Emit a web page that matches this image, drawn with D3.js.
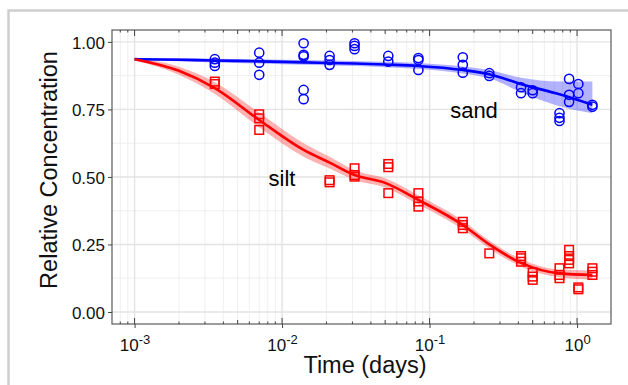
<!DOCTYPE html>
<html>
<head>
<meta charset="utf-8">
<script src="https://cdn.jsdelivr.net/npm/d3@7"></script>
<style>
  body { margin: 0; background: #fff; }
  svg { font-family: "Liberation Sans", Arial, sans-serif; }
</style>
</head>
<body>
<div id="chart"></div>
<script>
var w = 628;
var h = 385;

// measured points (time in days, relative concentration)
var sandT = [0.0035, 0.0035, 0.0035, 0.007, 0.007, 0.007, 0.014, 0.014, 0.014, 0.014, 0.014,
             0.021, 0.021, 0.021, 0.031, 0.031, 0.031, 0.0525, 0.0525, 0.084, 0.084, 0.084,
             0.168, 0.168, 0.168, 0.254, 0.254, 0.417, 0.417, 0.50, 0.50, 0.76, 0.76, 0.76,
             0.883, 0.883, 0.883, 1.02, 1.02, 1.27, 1.27];
var sandC = [0.936, 0.923, 0.911, 0.960, 0.923, 0.878, 0.995, 0.952, 0.946, 0.822, 0.788,
             0.948, 0.933, 0.915, 0.995, 0.985, 0.973, 0.948, 0.927, 0.940, 0.933, 0.896,
             0.943, 0.915, 0.886, 0.884, 0.874, 0.832, 0.810, 0.821, 0.810, 0.736, 0.719, 0.707,
             0.863, 0.804, 0.778, 0.844, 0.810, 0.767, 0.760];
var siltT = [0.0035, 0.0035, 0.007, 0.007, 0.007, 0.021, 0.021, 0.031, 0.031, 0.031,
             0.0525, 0.0525, 0.0525, 0.084, 0.084, 0.084, 0.168, 0.168, 0.168, 0.254,
             0.417, 0.417, 0.417, 0.50, 0.50, 0.50, 0.76, 0.76, 0.76,
             0.883, 0.883, 0.883, 0.883, 1.02, 1.02, 1.27, 1.27, 1.27];
var siltC = [0.853, 0.844, 0.732, 0.717, 0.674, 0.488, 0.480, 0.532, 0.507, 0.501,
             0.548, 0.536, 0.440, 0.440, 0.409, 0.390, 0.334, 0.322, 0.310, 0.217,
             0.207, 0.199, 0.186, 0.146, 0.131, 0.119, 0.162, 0.137, 0.125,
             0.230, 0.207, 0.193, 0.180, 0.091, 0.084, 0.162, 0.149, 0.137];

// fitted curves with confidence band
var fitT    = [0.001, 0.002, 0.0035, 0.007, 0.014, 0.021, 0.031, 0.05, 0.084, 0.168, 0.254, 0.42, 0.76, 1.27];
var sandFit = [0.936, 0.934, 0.931, 0.928, 0.924, 0.922, 0.920, 0.916, 0.911, 0.896, 0.880, 0.843, 0.806, 0.767];
var sandLo  = [0.932, 0.928, 0.924, 0.920, 0.915, 0.913, 0.911, 0.906, 0.900, 0.883, 0.865, 0.813, 0.762, 0.736];
var sandHi  = [0.940, 0.940, 0.938, 0.936, 0.933, 0.931, 0.929, 0.926, 0.922, 0.909, 0.896, 0.867, 0.853, 0.853];
var siltFit = [0.936, 0.893, 0.829, 0.711, 0.600, 0.553, 0.507, 0.478, 0.415, 0.322, 0.250, 0.181, 0.143, 0.137];
var siltLo  = [0.932, 0.878, 0.807, 0.684, 0.575, 0.531, 0.489, 0.461, 0.398, 0.306, 0.235, 0.167, 0.129, 0.120];
var siltHi  = [0.940, 0.908, 0.851, 0.738, 0.625, 0.575, 0.525, 0.495, 0.432, 0.338, 0.265, 0.195, 0.157, 0.154];

var yTicks = [0, 0.25, 0.5, 0.75, 1];
var xTicks = [0.001, 0.01, 0.1, 1];
var xExp = ["-3", "-2", "-1", "0"];

// panel edges (note: "top" is a reserved window property, so use p*)
var pL = 112, pR = 611, pT = 30, pB = 324;

var svg = d3.select("#chart").append("svg")
    .attr("width", w)
    .attr("height", h);

// outer frame
svg.append("rect")
    .attr("x", 8.5).attr("y", 10.5)
    .attr("width", 800).attr("height", 600)
    .style("fill", "#fff")
    .style("stroke", "#cfcfcf")
    .style("stroke-width", 2.5);

var x = d3.scaleLog()
    .domain([Math.pow(10, -3.153), Math.pow(10, 0.23)])
    .range([pL, pR]);
var y = d3.scaleLinear()
    .domain([-0.0445, 1.044])
    .range([pB, pT]);

// minor log values inside the range
var minors = [];
for (var e = -4; e <= 0; e++) {
  for (var m = 2; m <= 9; m++) {
    var v = m * Math.pow(10, e);
    if (x(v) > pL + 0.5 && x(v) < pR - 0.5) minors.push(v);
  }
}

var grid = svg.append("g");
grid.selectAll(".xminor").data(minors).enter().append("line")
    .attr("x1", function(d) { return x(d); })
    .attr("x2", function(d) { return x(d); })
    .attr("y1", pT).attr("y2", pB)
    .style("stroke", "#ebebeb").style("stroke-width", 0.8);
grid.selectAll(".yminor").data([0.125, 0.375, 0.625, 0.875]).enter().append("line")
    .attr("x1", pL).attr("x2", pR)
    .attr("y1", function(d) { return y(d); })
    .attr("y2", function(d) { return y(d); })
    .style("stroke", "#ebebeb").style("stroke-width", 0.8);
grid.selectAll(".xmajor").data(xTicks).enter().append("line")
    .attr("x1", function(d) { return x(d); })
    .attr("x2", function(d) { return x(d); })
    .attr("y1", pT).attr("y2", pB)
    .style("stroke", "#e3e3e3").style("stroke-width", 1.4);
grid.selectAll(".ymajor").data(yTicks).enter().append("line")
    .attr("x1", pL).attr("x2", pR)
    .attr("y1", function(d) { return y(d); })
    .attr("y2", function(d) { return y(d); })
    .style("stroke", "#e3e3e3").style("stroke-width", 1.4);

var band = d3.area()
    .x(function(d, i) { return x(fitT[i]); })
    .curve(d3.curveMonotoneX);
var fitLine = d3.line()
    .x(function(d, i) { return x(fitT[i]); })
    .y(function(d) { return y(d); })
    .curve(d3.curveMonotoneX);

// points
svg.selectAll(".sand")
    .data(sandC)
    .enter()
    .append("circle")
    .attr("cx", function(d, i) { return x(sandT[i]); })
    .attr("cy", function(d) { return y(d); })
    .attr("r", 4.6)
    .style("fill", "none")
    .style("stroke", "#0000ff")
    .style("stroke-width", 1.5);

svg.selectAll(".silt")
    .data(siltC)
    .enter()
    .append("rect")
    .attr("x", function(d, i) { return x(siltT[i]) - 4.3; })
    .attr("y", function(d) { return y(d) - 4.3; })
    .attr("width", 8.6)
    .attr("height", 8.6)
    .style("fill", "none")
    .style("stroke", "#ff0000")
    .style("stroke-width", 1.5);

// ribbons and fitted lines
svg.append("path")
    .datum(sandFit)
    .attr("d", band.y0(function(d, i) { return y(sandLo[i]); }).y1(function(d, i) { return y(sandHi[i]); }))
    .style("fill", "#0000ff").style("fill-opacity", 0.3);
svg.append("path")
    .datum(siltFit)
    .attr("d", band.y0(function(d, i) { return y(siltLo[i]); }).y1(function(d, i) { return y(siltHi[i]); }))
    .style("fill", "#ff0000").style("fill-opacity", 0.3);
svg.append("path")
    .datum(sandFit)
    .attr("d", fitLine)
    .style("fill", "none").style("stroke", "#0000ff").style("stroke-width", 2.6);
svg.append("path")
    .datum(siltFit)
    .attr("d", fitLine)
    .style("fill", "none").style("stroke", "#ff0000").style("stroke-width", 2.6);

// labels inside the panel
svg.append("text").attr("x", 474).attr("y", 118)
    .attr("text-anchor", "middle").style("font-size", "22px").text("sand");
svg.append("text").attr("x", 282).attr("y", 186)
    .attr("text-anchor", "middle").style("font-size", "22px").text("silt");

// panel border
svg.append("rect")
    .attr("x", pL).attr("y", pT)
    .attr("width", pR - pL).attr("height", pB - pT)
    .style("fill", "none").style("stroke", "#5a5a5a").style("stroke-width", 1.2);

// log ticks on top and bottom, inside the panel
function tickLen(d) {
  var m = Math.round(d / Math.pow(10, Math.floor(Math.log10(d) + 1e-9)));
  return m === 5 ? 4 : 2.5;
}
var logt = svg.append("g").style("stroke", "#444").style("stroke-width", 1);
logt.selectAll(".bmin").data(minors).enter().append("line")
    .attr("x1", function(d) { return x(d); }).attr("x2", function(d) { return x(d); })
    .attr("y1", pB).attr("y2", function(d) { return pB - tickLen(d); });
logt.selectAll(".tmin").data(minors).enter().append("line")
    .attr("x1", function(d) { return x(d); }).attr("x2", function(d) { return x(d); })
    .attr("y1", pT).attr("y2", function(d) { return pT + tickLen(d); });
logt.selectAll(".bmaj").data(xTicks).enter().append("line")
    .attr("x1", function(d) { return x(d); }).attr("x2", function(d) { return x(d); })
    .attr("y1", pB).attr("y2", pB - 6);
logt.selectAll(".tmaj").data(xTicks).enter().append("line")
    .attr("x1", function(d) { return x(d); }).attr("x2", function(d) { return x(d); })
    .attr("y1", pT).attr("y2", pT + 6);

// axes
var yAxis = svg.append("g")
    .attr("transform", "translate(" + pL + ",0)")
    .call(d3.axisLeft(y).tickValues(yTicks).tickFormat(d3.format(".2f")).tickSize(4).tickPadding(3));
var xAxis = svg.append("g")
    .attr("transform", "translate(0," + pB + ")")
    .call(d3.axisBottom(x).tickValues(xTicks).tickFormat(function() { return ""; }).tickSize(4).tickPadding(10));

[yAxis, xAxis].forEach(function(a) {
  a.select(".domain").remove();
  a.selectAll(".tick line").style("stroke", "#444").style("stroke-width", 1);
  a.selectAll("text").style("font-family", "Liberation Sans, Arial, sans-serif")
    .style("fill", "#111").style("font-size", "17px");
});
yAxis.selectAll("text").attr("dy", "0.36em");

xAxis.selectAll(".tick text")
    .attr("y", 27).attr("dy", 0)
    .each(function(d, i) {
      var t = d3.select(this);
      t.append("tspan").text("10");
      t.append("tspan").attr("dy", -7).style("font-size", "13px").text(xExp[i]);
    });

// axis titles
svg.append("text")
    .attr("x", 365).attr("y", 373)
    .attr("text-anchor", "middle").style("font-size", "23.5px").style("fill", "#111")
    .text("Time (days)");
svg.append("text")
    .attr("transform", "translate(57,170) rotate(-90)")
    .attr("text-anchor", "middle").style("font-size", "23.5px").style("fill", "#111")
    .text("Relative Concentration");
</script>
</body>
</html>
